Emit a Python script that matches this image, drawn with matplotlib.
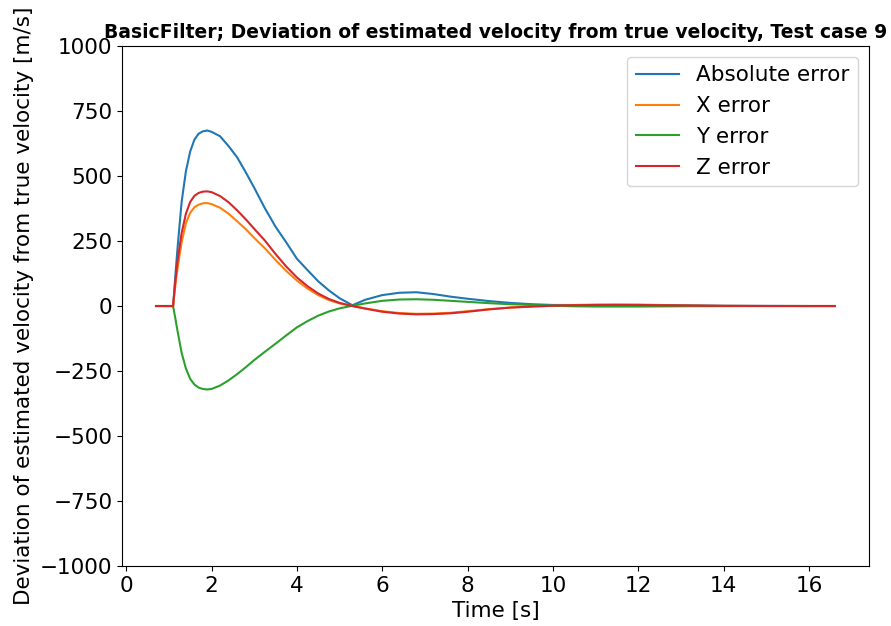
import matplotlib
matplotlib.use("Agg")
import matplotlib.pyplot as plt

# time [s]
t = [0.7, 1.1, 1.15, 1.2, 1.3, 1.4, 1.5, 1.6, 1.7, 1.8, 1.9, 2.0, 2.2, 2.4, 2.6, 2.8, 3.0,
     3.25, 3.5, 3.75, 4.0, 4.25, 4.5, 4.75, 5.0, 5.3, 5.6, 6.0, 6.4, 6.8, 7.2, 7.6,
     8.0, 8.5, 9.0, 9.5, 10.0, 10.5, 11.0, 11.5, 12.0, 12.5, 13.0, 14.0, 15.0, 16.0, 16.6]

abs_err = [0, 0, 110, 215, 400, 518, 594, 640, 663, 672, 675, 670, 653, 615, 572, 515, 455,
           376, 305, 245, 182, 138, 95, 60, 30, 3, 24, 42, 51, 53, 46, 36,
           28, 19, 12, 7, 4, 4, 5, 5, 5, 4, 3, 1, 0.5, 0, 0]

x_err = [0, 0, 75, 140, 245, 318, 358, 380, 390, 395, 396, 392, 378, 355, 326, 296, 262,
         222, 177, 135, 98, 67, 42, 23, 10, 0, -9, -20, -27, -30, -29, -26,
         -20, -12, -6, -2, 1, 2.5, 3.5, 4, 3.5, 2.5, 1.5, 0.5, 0, 0, 0]

y_err = [0, 0, -45, -92, -180, -240, -280, -302, -314, -319, -321, -319, -306, -286, -262, -236, -208,
         -176, -145, -113, -82, -58, -37, -21, -9, 1, 10, 20, 25, 26, 24, 20,
         16, 11, 7, 4, 1, -1, -2, -2, -2, -1.5, -1, -0.5, 0, 0, 0]

z_err = [0, 0, 90, 168, 280, 355, 400, 424, 435, 440, 441, 438, 423, 399, 368, 334, 297,
         252, 200, 152, 110, 76, 48, 27, 12, 0, -10, -22, -29, -32, -31, -28,
         -22, -13, -6, -2, 1, 3, 4, 4.5, 4, 3, 2, 0.5, 0, 0, 0]

fig, ax = plt.subplots(figsize=(8.91, 6.26), dpi=100)
fig.subplots_adjust(left=0.137, right=0.975, top=0.9265, bottom=0.0958)

ax.plot(t, abs_err, label="Absolute error")
ax.plot(t, x_err, label="X error")
ax.plot(t, y_err, label="Y error")
ax.plot(t, z_err, label="Z error")

ax.set_ylim(-1000, 1000)
ax.set_title("BasicFilter; Deviation of estimated velocity from true velocity, Test case 9",
             fontsize=13.5, fontweight="bold")
ax.set_xlabel("Time [s]", fontsize=15.5)
ax.set_ylabel("Deviation of estimated velocity from true velocity [m/s]", fontsize=15.5)
ax.tick_params(labelsize=15.5)
ax.legend(fontsize=15.5, loc="upper right")

fig.savefig("out.png", dpi=100)
